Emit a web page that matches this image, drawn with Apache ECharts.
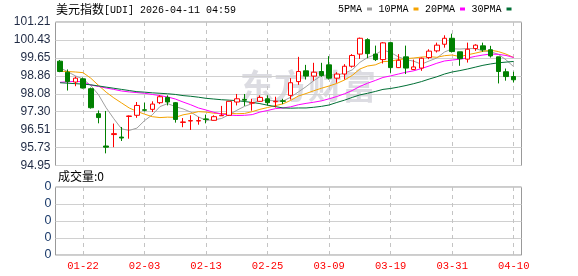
<!DOCTYPE html>
<html><head><meta charset="utf-8">
<script src="https://cdn.jsdelivr.net/npm/echarts@6/dist/echarts.min.js"></script>
<style>html,body{margin:0;padding:0;background:#fff}#c{width:578px;height:276px}</style>
</head><body><div id="c"></div>
<script>
const dates = ['01-19','01-20','01-21','01-22','01-23','01-26','01-27','01-28','01-29','01-30',
'02-02','02-03','02-04','02-05','02-06','02-09','02-10','02-11','02-12','02-13',
'02-16','02-17','02-18','02-19','02-20','02-23','02-24','02-25','02-26','02-27',
'03-02','03-03','03-04','03-05','03-06','03-09','03-10','03-11','03-12','03-13',
'03-16','03-17','03-18','03-19','03-20','03-23','03-24','03-25','03-26','03-27',
'03-30','03-31','04-01','04-02','04-03','04-06','04-07','04-08','04-09','04-10'];
const xLabels = ['01-22','02-03','02-13','02-25','03-09','03-19','03-31','04-10'];
const open  = [99.50,99.02,98.59,98.73,98.30,97.21,95.80,96.30,96.19,97.09,97.14,97.38,97.40,97.69,97.92,97.69,96.83,96.89,96.89,96.98,
96.92,97.12,97.14,97.72,97.83,97.67,97.75,97.86,97.73,97.77,98.01,98.61,99.08,98.85,99.05,99.34,98.76,98.94,99.28,99.81,
100.44,99.81,99.57,100.31,99.22,99.69,99.14,99.20,99.66,99.95,100.24,100.50,99.91,99.59,100.05,100.17,100.00,99.69,99.04,98.83];
const close = [99.05,98.61,98.76,98.33,97.47,97.04,95.75,96.34,96.15,97.11,97.57,97.36,97.63,97.95,97.72,96.96,96.85,96.91,96.91,96.96,
97.08,97.14,97.75,97.86,97.80,97.69,97.92,97.69,97.75,97.75,98.56,99.05,98.85,99.02,98.88,98.76,98.94,99.28,99.75,100.50,
99.83,99.57,100.30,99.22,99.54,99.20,99.25,99.63,99.94,100.20,100.50,99.92,99.61,100.02,100.20,100.00,99.73,99.05,98.83,98.69];
const low   = [99.02,98.22,98.41,98.31,97.43,96.79,95.48,95.75,96.02,96.12,97.03,97.31,97.28,97.63,97.57,96.82,96.62,96.50,96.73,96.79,
96.91,97.11,97.11,97.57,97.55,97.34,97.72,97.57,97.48,97.63,97.83,98.47,98.70,98.65,98.82,98.70,98.56,98.70,99.22,99.60,
99.63,99.51,99.40,98.99,99.20,98.94,99.11,99.08,99.59,99.88,100.09,99.88,99.30,99.44,99.95,99.91,99.66,98.53,98.65,98.57];
const high  = [99.55,99.14,98.83,98.79,98.35,97.35,97.33,96.78,96.63,97.13,97.72,97.69,97.75,98.01,98.01,97.72,97.02,97.14,97.07,97.17,
97.14,97.55,97.75,98.07,98.07,97.86,98.01,98.01,97.95,97.86,98.76,99.69,99.34,99.43,99.43,99.72,99.02,99.37,99.81,100.53,
100.50,100.18,100.33,100.33,99.81,100.18,99.57,99.66,100.02,100.31,100.63,100.70,99.91,100.31,100.24,100.31,100.17,99.69,99.18,99.04];
const ma5  = [99.22,99.04,98.86,98.72,98.44,98.04,97.47,96.99,96.55,96.48,96.58,96.91,97.16,97.52,97.65,97.52,97.42,97.28,97.07,96.92,
96.94,97.00,97.17,97.36,97.53,97.65,97.80,97.79,97.77,97.76,97.93,98.16,98.39,98.65,98.87,98.91,98.89,98.98,99.12,99.45,
99.66,99.79,99.99,99.88,99.69,99.57,99.50,99.37,99.51,99.64,99.90,100.04,100.03,100.05,100.05,99.95,99.91,99.80,99.56,99.26];
const ma10 = [99.06,99.05,99.03,99.00,98.76,98.45,98.15,97.90,97.68,97.46,97.31,97.19,97.08,97.04,97.06,97.05,97.16,97.22,97.30,97.28,
97.23,97.21,97.22,97.21,97.22,97.30,97.40,97.48,97.56,97.64,97.79,97.98,98.09,98.21,98.32,98.42,98.53,98.68,98.88,99.16,
99.29,99.34,99.48,99.50,99.57,99.61,99.64,99.68,99.70,99.67,99.74,99.77,99.70,99.78,99.85,99.93,99.98,99.92,99.81,99.66];
const ma20 = [98.58,98.60,98.62,98.60,98.46,98.40,98.33,98.27,98.20,98.16,98.13,98.10,98.05,98.00,97.94,97.85,97.72,97.60,97.46,97.37,
97.27,97.20,97.15,97.13,97.14,97.17,97.28,97.35,97.43,97.46,97.51,97.60,97.66,97.71,97.77,97.86,97.96,98.08,98.22,98.40,
98.54,98.66,98.79,98.86,98.94,99.02,99.08,99.18,99.29,99.41,99.51,99.55,99.59,99.64,99.71,99.77,99.81,99.80,99.75,99.66];
const ma30 = [98.56,98.54,98.52,98.50,98.47,98.42,98.37,98.32,98.27,98.22,98.17,98.15,98.12,98.10,98.08,98.05,98.00,97.97,97.93,97.88,
97.85,97.82,97.80,97.78,97.74,97.70,97.65,97.58,97.52,97.46,97.45,97.46,97.46,97.49,97.53,97.59,97.70,97.80,97.92,98.03,
98.10,98.18,98.27,98.31,98.37,98.44,98.52,98.61,98.72,98.82,98.94,99.03,99.09,99.16,99.24,99.32,99.38,99.43,99.46,99.49];
const volume = [0,0,0,0,0,0,0,0,0,0,0,0,0,0,0,0,0,0,0,0,0,0,0,0,0,0,0,0,0,0,
0,0,0,0,0,0,0,0,0,0,0,0,0,0,0,0,0,0,0,0,0,0,0,0,0,0,0,0,0,0];
const priceTicks = ['94.95','95.73','96.51','97.30','98.08','98.86','99.65','100.43','101.21'];
const volTicks = ['0','0','0','0','0'];
const priceMin = 94.95, priceMax = 101.21;

const chart = echarts.init(document.getElementById('c'), null, {renderer:'canvas'});
const candles = open.map((o,i)=>[o, close[i], low[i], high[i]]);
const isLabelIdx = (i) => xLabels.indexOf(dates[i]) >= 0;
const catAxis = (gi, showLabel) => ({gridIndex:gi, type:'category', data:dates, axisLine:{show:false},
  axisTick:{show:false}, splitLine:{show:false},
  axisLabel: showLabel ? {interval:isLabelIdx, color:'#ff0000', fontFamily:'Liberation Mono', fontSize:10.5, margin:6} : {show:false}});
const hiddenVal = (gi) => ({gridIndex:gi, type:'value', min:0, max:1, axisLine:{show:false}, axisTick:{show:false},
  axisLabel:{show:false}, splitLine:{show:false}});
const maLine = (name, data, color) => ({name, type:'line', xAxisIndex:1, yAxisIndex:1, data, symbol:'none',
  showSymbol:false, silent:true, lineStyle:{width:1, color}, itemStyle:{color}, z:3});
// dashed vertical guide lines at labelled dates, drawn through the axis scales
const guideData = (yLo) => xLabels.map(d => [dates.indexOf(d), yLo]);
const guideSeries = (xi, yi, yLo, yHi) => ({type:'custom', xAxisIndex:xi, yAxisIndex:yi, silent:true, z:1, clip:false,
  data: guideData(yLo), encode:{x:0, y:1},
  renderItem: (params, api) => {
    const idx = api.value(0);
    const p1 = api.coord([idx, yHi]);
    const p2 = api.coord([idx, yLo]);
    const x = Math.round(p1[0] - 0.5) + 0.5;
    return {type:'line', shape:{x1:x, y1:p1[1], x2:x, y2:p2[1]},
      style:{stroke:'#c4c4c4', lineWidth:1, lineDash:[4,4], fill:null}};
  }});

const PL = 55.5, PW = 466, CL = 56.15, CW = 461.4;
const MT = 22, MH = 143.5, VT = 187, VH = 68;
chart.setOption({
  animation:false,
  backgroundColor:'#fff',
  legend:{data:['5PMA','10PMA','20PMA','30PMA'], left:338, top:4, padding:0, align:'right',
    itemWidth:5, itemHeight:3, itemGap:6.5, icon:'rect', selectedMode:false,
    textStyle:{fontFamily:'Liberation Mono', fontSize:10, color:'#000'}},
  graphic:[
    {type:'text', left:56, top:3, silent:true, style:{text:'美元指数', font:'12px "Noto Sans CJK SC"', fill:'#000'}},
    {type:'text', left:104, top:5, silent:true, style:{text:'[UDI] 2026-04-11 04:59', font:'10px "Liberation Mono"', fill:'#000'}},
    {type:'text', left:58, top:170, silent:true, style:{text:'成交量:0', font:'12px "Noto Sans CJK SC"', fill:'#000'}},
    {type:'text', left:240, top:69, silent:true, z:0, style:{text:'东方财富', font:'bold 34px "Noto Sans CJK SC"', fill:'rgba(205,205,214,0.7)'}}
  ],
  grid:[
    {left:PL, top:MT, width:PW, height:MH, show:true, borderColor:'#999', borderWidth:1, backgroundColor:'transparent'},
    {left:CL, top:MT, width:CW, height:MH},
    {left:PL, top:VT, width:PW, height:VH, show:true, borderColor:'#999', borderWidth:1, backgroundColor:'transparent'},
    {left:CL, top:VT, width:CW, height:VH}
  ],
  xAxis:[
    {gridIndex:0, type:'value', min:0, max:1, show:false},
    catAxis(1, false),
    {gridIndex:2, type:'value', min:0, max:1, show:false},
    catAxis(3, true)
  ],
  yAxis:[
    {gridIndex:0, type:'value', min:0, max:8, interval:1, axisLine:{show:false}, axisTick:{show:false},
      axisLabel:{formatter:(v)=>priceTicks[v], showMinLabel:true, showMaxLabel:true, margin:5,
        fontFamily:'Liberation Sans', fontSize:12, color:(v)=> (v===8 ? '#6b4a10' : '#1f2a44')},
      splitLine:{lineStyle:{color:'#d0d0d0', width:1}}},
    {gridIndex:1, type:'value', min:priceMin, max:priceMax, axisLine:{show:false}, axisTick:{show:false},
      axisLabel:{show:false}, splitLine:{show:false}},
    {gridIndex:2, type:'value', min:0, max:4, interval:1, axisLine:{show:false}, axisTick:{show:false},
      axisLabel:{formatter:(v)=>volTicks[v], showMinLabel:true, showMaxLabel:true, margin:4,
        fontFamily:'Liberation Sans', fontSize:12.5, color:'#1a3a6a'},
      splitLine:{lineStyle:{color:'#d0d0d0', width:1}}},
    hiddenVal(3)
  ],
  series:[
    guideSeries(1, 1, priceMin, priceMax),
    guideSeries(3, 3, 0, 1),
    {name:'vol', type:'bar', xAxisIndex:3, yAxisIndex:3, data:volume, barWidth:5, silent:true,
      itemStyle:{color:'#008000'}, z:1},
    maLine('5PMA', ma5, '#a0a0a0'),
    maLine('10PMA', ma10, '#f5a300'),
    maLine('20PMA', ma20, '#ff00ff'),
    maLine('30PMA', ma30, '#006f35'),
    {name:'K', type:'candlestick', xAxisIndex:1, yAxisIndex:1, data:candles, barWidth:5, silent:true, z:4,
      itemStyle:{color:'#ffffff', color0:'#008000', borderColor:'#ff0000', borderColor0:'#008000', borderWidth:1}}
  ]
});
</script></body></html>
